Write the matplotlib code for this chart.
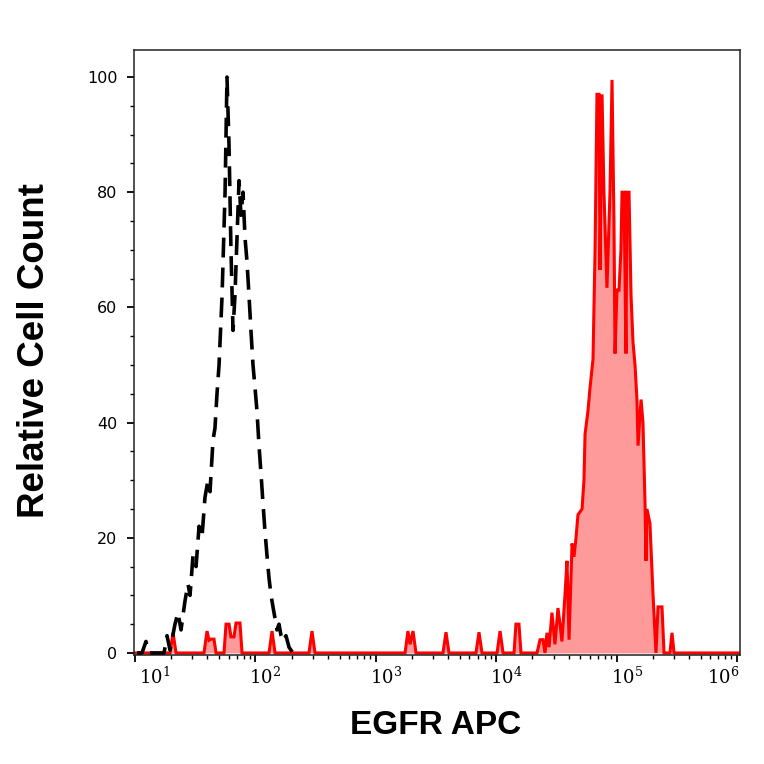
import numpy as np
import matplotlib as mpl
mpl.use("Agg")
import matplotlib.pyplot as plt
from matplotlib.ticker import FixedLocator, NullFormatter
from matplotlib.transforms import offset_copy

# ========= DATA (log10 intensity, relative count) =========
iso_log = [1.017, 1.058, 1.091, 1.116, 1.208, 1.241, 1.266, 1.291, 1.332, 1.357,
           1.382, 1.415, 1.440, 1.457, 1.482, 1.507, 1.532, 1.556, 1.581, 1.606,
           1.623, 1.648, 1.664, 1.681, 1.698, 1.723, 1.748, 1.764, 1.781, 1.797,
           1.814, 1.830, 1.847, 1.864, 1.880, 1.897, 1.914, 1.930, 1.947, 1.963,
           1.980, 1.997, 2.013, 2.030, 2.047, 2.063, 2.080, 2.096, 2.113, 2.130,
           2.146, 2.163, 2.179, 2.196, 2.213, 2.229, 2.254, 2.279, 2.312, 2.345]
iso_cnt = [0, 0, 2, 0, 0, 0, 3, 0.5, 5, 7,
           4, 9, 12, 10, 17, 15, 22, 20, 27, 30,
           28, 37, 39, 45, 50, 62, 80, 100, 88, 70,
           56, 62, 72, 82, 76, 80, 72, 68, 62, 56,
           50, 46, 42, 36, 31, 26, 21, 17, 13, 10,
           8, 6, 4, 5, 3, 2, 3, 1, 0, 0]

egfr_log = [1.000, 1.291, 1.316, 1.341, 1.573, 1.598, 1.615, 1.631, 1.656, 1.673,
            1.739, 1.756, 1.781, 1.797, 1.822, 1.839, 1.872, 1.889, 2.113, 2.138,
            2.163, 2.445, 2.470, 2.495, 3.243, 3.267, 3.284, 3.309, 3.334, 3.558,
            3.583, 3.608, 3.832, 3.857, 3.882, 4.007, 4.032, 4.057, 4.148, 4.164,
            4.189, 4.206, 4.339, 4.364, 4.389, 4.405, 4.422, 4.439, 4.463, 4.488,
            4.513, 4.530, 4.546, 4.571, 4.588, 4.605, 4.630, 4.646, 4.663, 4.679,
            4.713, 4.729, 4.738, 4.762, 4.779, 4.804, 4.821, 4.837, 4.854, 4.862,
            4.879, 4.895, 4.920, 4.945, 4.962, 4.978, 4.987, 5.003, 5.020, 5.036,
            5.045, 5.061, 5.078, 5.086, 5.103, 5.120, 5.136, 5.153, 5.169, 5.178,
            5.203, 5.219, 5.236, 5.244, 5.252, 5.277, 5.302, 5.327, 5.344, 5.377,
            5.394, 5.443, 5.460, 5.477, 6.025]
egfr_cnt = [0, 0, 3.5, 0, 0, 3.8, 2.2, 2.4, 2.4, 0,
            0, 5, 5, 2.8, 2.8, 5.2, 5.2, 0, 0, 3.8,
            0, 0, 3.8, 0, 0, 3.8, 1.5, 3.8, 0, 0,
            3.6, 0, 0, 3.6, 0, 0, 3.8, 0, 0, 5,
            5, 0, 0, 2.3, 2.3, 0, 3.5, 1, 7, 1.5,
            7.8, 5, 2, 10, 16, 2.3, 19, 16.7, 20, 24,
            25, 30, 38, 42, 46, 51, 70, 97, 97, 66.5,
            97, 80, 63.4, 80, 99.5, 75, 52, 63, 63, 70,
            80, 80, 52, 80, 80, 62, 54, 50, 44, 36,
            44, 40, 26, 16, 25, 22.5, 10.4, 0, 8, 8,
            0, 0, 3.5, 0, 0]

decades = [1, 2, 3, 4, 5, 6]
y_major = [0, 20, 40, 60, 80, 100]

# ========= FIGURE =========
fig = plt.figure(figsize=(7.64, 7.64), dpi=100)
ax = fig.add_axes([0.1754, 0.1427, 0.7932, 0.7919])

x_iso = 10 ** np.array(iso_log)
x_egfr = 10 ** np.array(egfr_log)

ax.fill_between(x_egfr, egfr_cnt, 0, color="#FF9A9A", lw=0, zorder=1)
ax.plot(x_egfr, egfr_cnt, color="#FF0000", lw=2.2, zorder=2, solid_joinstyle="miter")
ax.plot(x_iso, iso_cnt, color="black", lw=2.6, dashes=(5.5, 2.8), zorder=3)

ax.set_xscale("log")
ax.set_xlim(10 ** 0.9917, 10 ** 6.025)
ax.set_ylim(-0.35, 104.7)

# ticks
ax.xaxis.set_major_locator(FixedLocator([10 ** d for d in decades]))
minors = [m * 10 ** d for d in range(0, 6) for m in range(2, 10)]
ax.xaxis.set_minor_locator(FixedLocator(minors))
ax.xaxis.set_minor_formatter(NullFormatter())
ax.set_xticklabels([])
ax.yaxis.set_major_locator(FixedLocator(y_major))
ax.yaxis.set_minor_locator(FixedLocator(list(range(5, 105, 5))))
ax.set_yticklabels([str(v) for v in y_major])

ax.tick_params(axis="both", which="major", direction="out", length=5, width=1.3,
               color="black")
ax.tick_params(axis="both", which="minor", direction="out", length=3, width=1.0,
               color="black")
ax.tick_params(axis="y", which="major", labelsize=11.5, pad=7)
for sp in ax.spines.values():
    sp.set_linewidth(1.1)
    sp.set_color("#222222")

# decade labels, nudged like the original (first/last kept inside the frame)
label_dx = [20, 10, 10, 10, 11, -14]
for d, dx in zip(decades, label_dx):
    tr = offset_copy(ax.get_xaxis_transform(), fig=fig, x=dx, y=-12, units="dots")
    ax.text(10 ** d, 0, r"$\mathdefault{10^{%d}}$" % d, transform=tr,
            ha="center", va="top", fontsize=13, family="DejaVu Serif",
            clip_on=False)

fig.text(436 / 764, 1 - 725 / 764, "EGFR APC", ha="center", va="center",
         fontsize=24, fontweight="bold", family="Liberation Sans")
fig.text(35 / 764, 1 - 351 / 764, "Relative Cell Count", ha="center", va="center",
         rotation=90, fontsize=26.5, fontweight="bold", family="Liberation Sans")

fig.savefig("out.png", dpi=100, facecolor="white")
